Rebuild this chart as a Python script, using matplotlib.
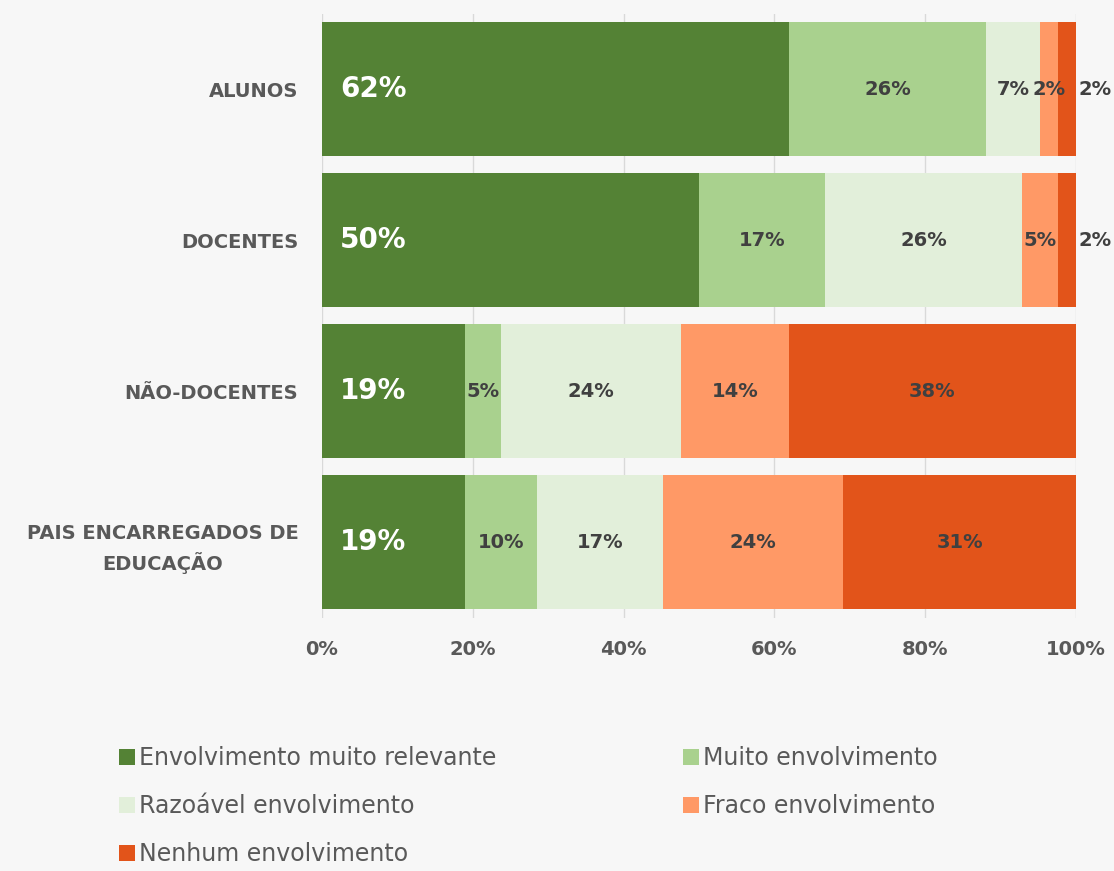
import matplotlib.pyplot as plt
from matplotlib.ticker import PercentFormatter

# dados (percentagens)
categorias = ["ALUNOS", "DOCENTES", "NÃO-DOCENTES", "PAIS ENCARREGADOS DE\nEDUCAÇÃO"]
series = ["Envolvimento muito relevante", "Muito envolvimento", "Razoável envolvimento",
          "Fraco envolvimento", "Nenhum envolvimento"]
muito_relevante = [61.9, 50.0, 19.0, 19.0]
muito = [26.2, 16.7, 4.7, 9.5]
razoavel = [7.1, 26.1, 23.9, 16.7]
fraco = [2.4, 4.8, 14.3, 23.9]
nenhum = [2.4, 2.4, 38.1, 30.9]
cores = ["#548235", "#A9D18E", "#E2EFDA", "#FF9966", "#E2541A"]

valores = [muito_relevante, muito, razoavel, fraco, nenhum]

plt.rcParams['font.family'] = ['DejaVu Sans']
fig = plt.figure(figsize=(11.14, 8.71), dpi=100, facecolor="#F7F7F7")
ax = fig.add_axes([0.289, 0.2905, 0.677, 0.694])
ax.set_facecolor("#F7F7F7")

y = list(range(len(categorias)))
left = [0.0] * len(categorias)
for s, (nome, vals, cor) in enumerate(zip(series, valores, cores)):
    ax.barh(y, vals, left=left, height=0.887, color=cor, label=nome, zorder=2)
    for i, v in enumerate(vals):
        txt = "%d%%" % round(v)
        if s == 0:
            ax.annotate(txt, (left[i], i), xytext=(13, 0), textcoords="offset points",
                        ha="left", va="center", color="white", fontsize=20, fontweight="bold")
        elif s == len(series) - 1 and v < 3:
            ax.annotate(txt, (100, i), xytext=(2, 0), textcoords="offset points",
                        ha="left", va="center", color="#404040", fontsize=14, fontweight="bold")
        else:
            ax.text(left[i] + v / 2, i, txt, ha="center", va="center",
                    color="#404040", fontsize=14, fontweight="bold")
    left = [a + b for a, b in zip(left, vals)]

ax.set_xlim(0, 100)
ax.set_ylim(3.5, -0.5)
ax.set_xticks([0, 20, 40, 60, 80, 100])
ax.xaxis.set_major_formatter(PercentFormatter(decimals=0))
ax.set_yticks(y)
ax.set_yticklabels(categorias, multialignment="center", linespacing=1.5)
ax.tick_params(axis="both", length=0, colors="#595959", labelsize=14)
ax.tick_params(axis="x", pad=16)
ax.tick_params(axis="y", pad=17)
for lab in ax.get_xticklabels() + ax.get_yticklabels():
    lab.set_fontweight("bold")
ax.grid(axis="x", color="#D9D9D9", linewidth=1, zorder=0)
for sp in ax.spines.values():
    sp.set_visible(False)

# legenda preenchida por linhas, como no original
handles, labels = ax.get_legend_handles_labels()
ordem = [0, 2, 4, 1, 3]
fig.legend([handles[k] for k in ordem], [labels[k] for k in ordem],
           loc="upper left", bbox_to_anchor=(0.088, 0.168), ncol=2, frameon=False,
           fontsize=17, handlelength=0.65, handleheight=0.65, handletextpad=0.2,
           columnspacing=7.9, labelspacing=1.02, labelcolor="#595959")

fig.savefig("out.png", dpi=100, facecolor=fig.get_facecolor())
